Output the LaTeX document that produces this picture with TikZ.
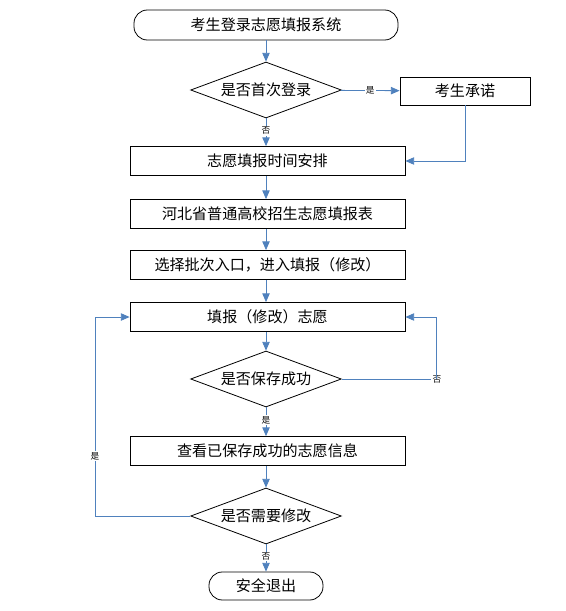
\documentclass[tikz,border=0pt]{standalone}
\usepackage{fontspec}
\newfontfamily\cjk{Noto Sans CJK SC}
\usetikzlibrary{shapes.geometric,arrows.meta}
\definecolor{lineblue}{HTML}{4F81BD}
\begin{document}
\begin{tikzpicture}[x=0.75pt,y=-0.75pt,
  every node/.style={font=\cjk\fontsize{11.3}{13}\selectfont, inner sep=0pt},
  procbox/.style={draw=black, line width=0.6pt, minimum width=206.25pt, minimum height=21.75pt},
  smallbox/.style={draw=black, line width=0.6pt, minimum width=97.5pt, minimum height=21pt},
  termbox/.style={draw=black, line width=0.6pt, rounded corners=10pt},
  decision/.style={draw=black, line width=0.6pt, diamond, aspect=2.7, minimum width=113pt, minimum height=42pt, inner sep=0pt},
  conn/.style={draw=lineblue, line width=0.6pt, -{Triangle[length=6.5pt,width=5.5pt]}},
  plainconn/.style={draw=lineblue, line width=0.6pt},
  lbl/.style={font=\cjk\fontsize{6.5}{7}\selectfont, fill=white, inner sep=0.8pt}
]
\useasboundingbox (0,0) rectangle (565,611);
\node[termbox, minimum width=198pt, minimum height=22.5pt] (start) at (266,25) {考生登录志愿填报系统};
\node[decision] (d1) at (266,90) {是否首次登录};
\node[smallbox] (promise) at (465,91) {考生承诺};
\node[procbox] (time) at (267.5,161) {志愿填报时间安排};
\node[procbox] (table) at (267.5,214) {河北省普通高校招生志愿填报表};
\node[procbox] (batch) at (267.5,265) {选择批次入口，进入填报（修改）};
\node[procbox] (fill) at (267.5,317) {填报（修改）志愿};
\node[decision] (d2) at (266,379) {是否保存成功};
\node[procbox] (view) at (267.5,451) {查看已保存成功的志愿信息};
\node[decision] (d3) at (266,516) {是否需要修改};
\node[termbox, minimum width=85.5pt, minimum height=21pt] (exit) at (266,586) {安全退出};

\coordinate (c1) at (465,161);
\coordinate (c2a) at (436,379);
\coordinate (c2b) at (436,317);
\coordinate (c3a) at (95,516);
\coordinate (c3b) at (95,317);

\draw[conn] (start) -- (d1);
\draw[conn] (d1) -- node[lbl]{是} (promise);
\draw[conn] (d1) -- node[lbl, pos=0.45]{否} (time.north -| d1);
\draw[conn] (promise.south) -- (c1) -- (time.east |- c1);
\draw[conn] (time.south -| d1) -- (table.north -| d1);
\draw[conn] (table.south -| d1) -- (batch.north -| d1);
\draw[conn] (batch.south -| d1) -- (fill.north -| d1);
\draw[conn] (fill.south -| d1) -- (d2);
\draw[plainconn] (d2.east) -- node[lbl, pos=0.99, anchor=west, xshift=-3pt]{否} (c2a);
\draw[conn] (c2a) -- (c2b) -- (fill.east);
\draw[conn] (d2) -- node[lbl, pos=0.45]{是} (view.north -| d2);
\draw[conn] (view.south -| d2) -- (d3);
\draw[conn] (d3.west) -- (c3a) -- node[lbl, pos=0.3]{是} (c3b) -- (fill.west);
\draw[conn] (d3) -- node[lbl, pos=0.45]{否} (exit);
\end{tikzpicture}
\end{document}
